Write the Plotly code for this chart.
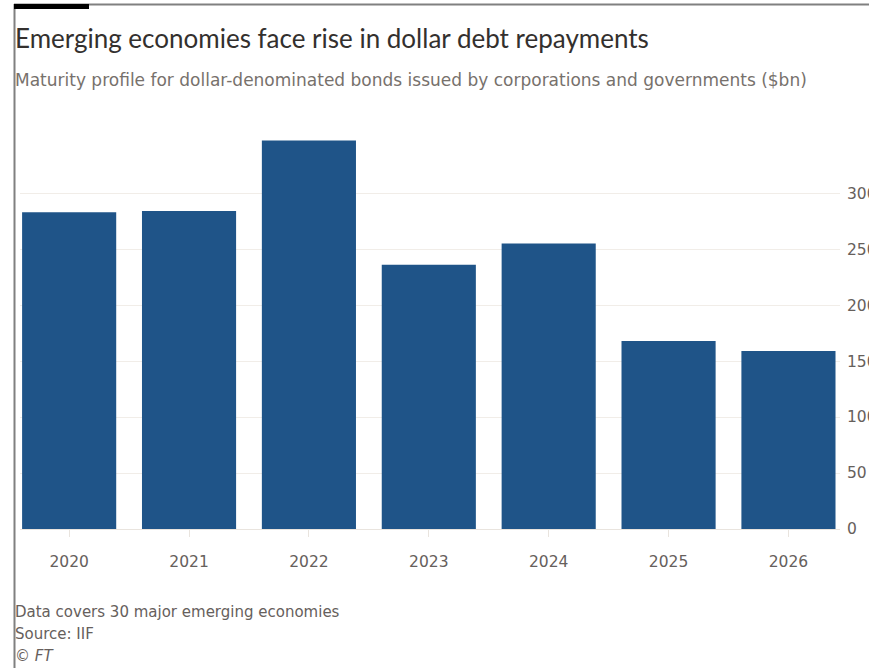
import plotly.graph_objects as go

# Maturity profile of EM dollar bonds, $bn
years = ["2020", "2021", "2022", "2023", "2024", "2025", "2026"]
repayments = [283, 284, 347, 236, 255, 168, 159]
y_ticks = [0, 50, 100, 150, 200, 250, 300]

W, H = 869, 668
PL, PR, PT, PB = 20, 840, 126, 529  # plot area in pixels

def px(x):
    return (x - PL) / (PR - PL)

def py(y):
    return (PB - y) / (PB - PT)

HEAD = "Lato"
BODY = "DejaVu Sans"
GREY = "#66605c"

fig = go.Figure(go.Bar(
    x=list(range(len(years))), y=repayments,
    marker=dict(color="#1f5488", line=dict(width=0)),
    width=0.785,
))

fig.update_layout(
    width=W, height=H,
    margin=dict(l=PL, r=W - PR, t=PT, b=H - PB, pad=0, autoexpand=False),
    paper_bgcolor="white", plot_bgcolor="white",
    showlegend=False,
    font=dict(family=BODY, color=GREY, size=15),
    xaxis=dict(
        range=[-0.41, 6.43], tickvals=list(range(len(years))), ticktext=years,
        showgrid=False, zeroline=False, showline=True, linecolor="#e9e4de", linewidth=1,
        ticks="outside", ticklen=7, tickcolor="#e9e4de", tickwidth=1, automargin=False,
        tickfont=dict(size=15.5, color=GREY, family=BODY), ticklabelstandoff=11,
    ),
    yaxis=dict(
        range=[0, 360], side="right", tickvals=y_ticks, automargin=False,
        showgrid=True, gridcolor="#f1ede8", gridwidth=1, zeroline=False,
        ticks="", tickfont=dict(size=15.5, color=GREY, family=BODY), ticklabelstandoff=6,
    ),
)

shapes = [
    dict(type="line", xref="paper", yref="paper", x0=px(14), x1=px(869), y0=py(4.5), y1=py(4.5),
         line=dict(color="#808080", width=2)),
    dict(type="line", xref="paper", yref="paper", x0=px(14.5), x1=px(14.5), y0=py(4), y1=py(668),
         line=dict(color="#808080", width=2)),
    dict(type="rect", xref="paper", yref="paper", x0=px(14), x1=px(89), y0=py(9), y1=py(4),
         fillcolor="black", line=dict(width=0)),
]
fig.update_layout(shapes=shapes)

def note(text, x, y, size, color, family=BODY, italic=False):
    fig.add_annotation(
        text=f"<i>{text}</i>" if italic else text, xref="paper", yref="paper",
        x=px(x), y=py(y), xanchor="left", yanchor="middle", showarrow=False,
        font=dict(family=family, size=size, color=color),
    )

note("Emerging economies face rise in dollar debt repayments", 13, 38, 26, "#33302e", family=HEAD)
note("Maturity profile for dollar-denominated bonds issued by corporations and governments ($bn)", 13, 80, 17, "#77716c")
note("Data covers 30 major emerging economies", 13, 612, 15, GREY)
note("Source: IIF", 13, 634, 15, GREY)
note("© FT", 13, 656, 15, GREY, italic=True)

fig.write_html("out.html")
